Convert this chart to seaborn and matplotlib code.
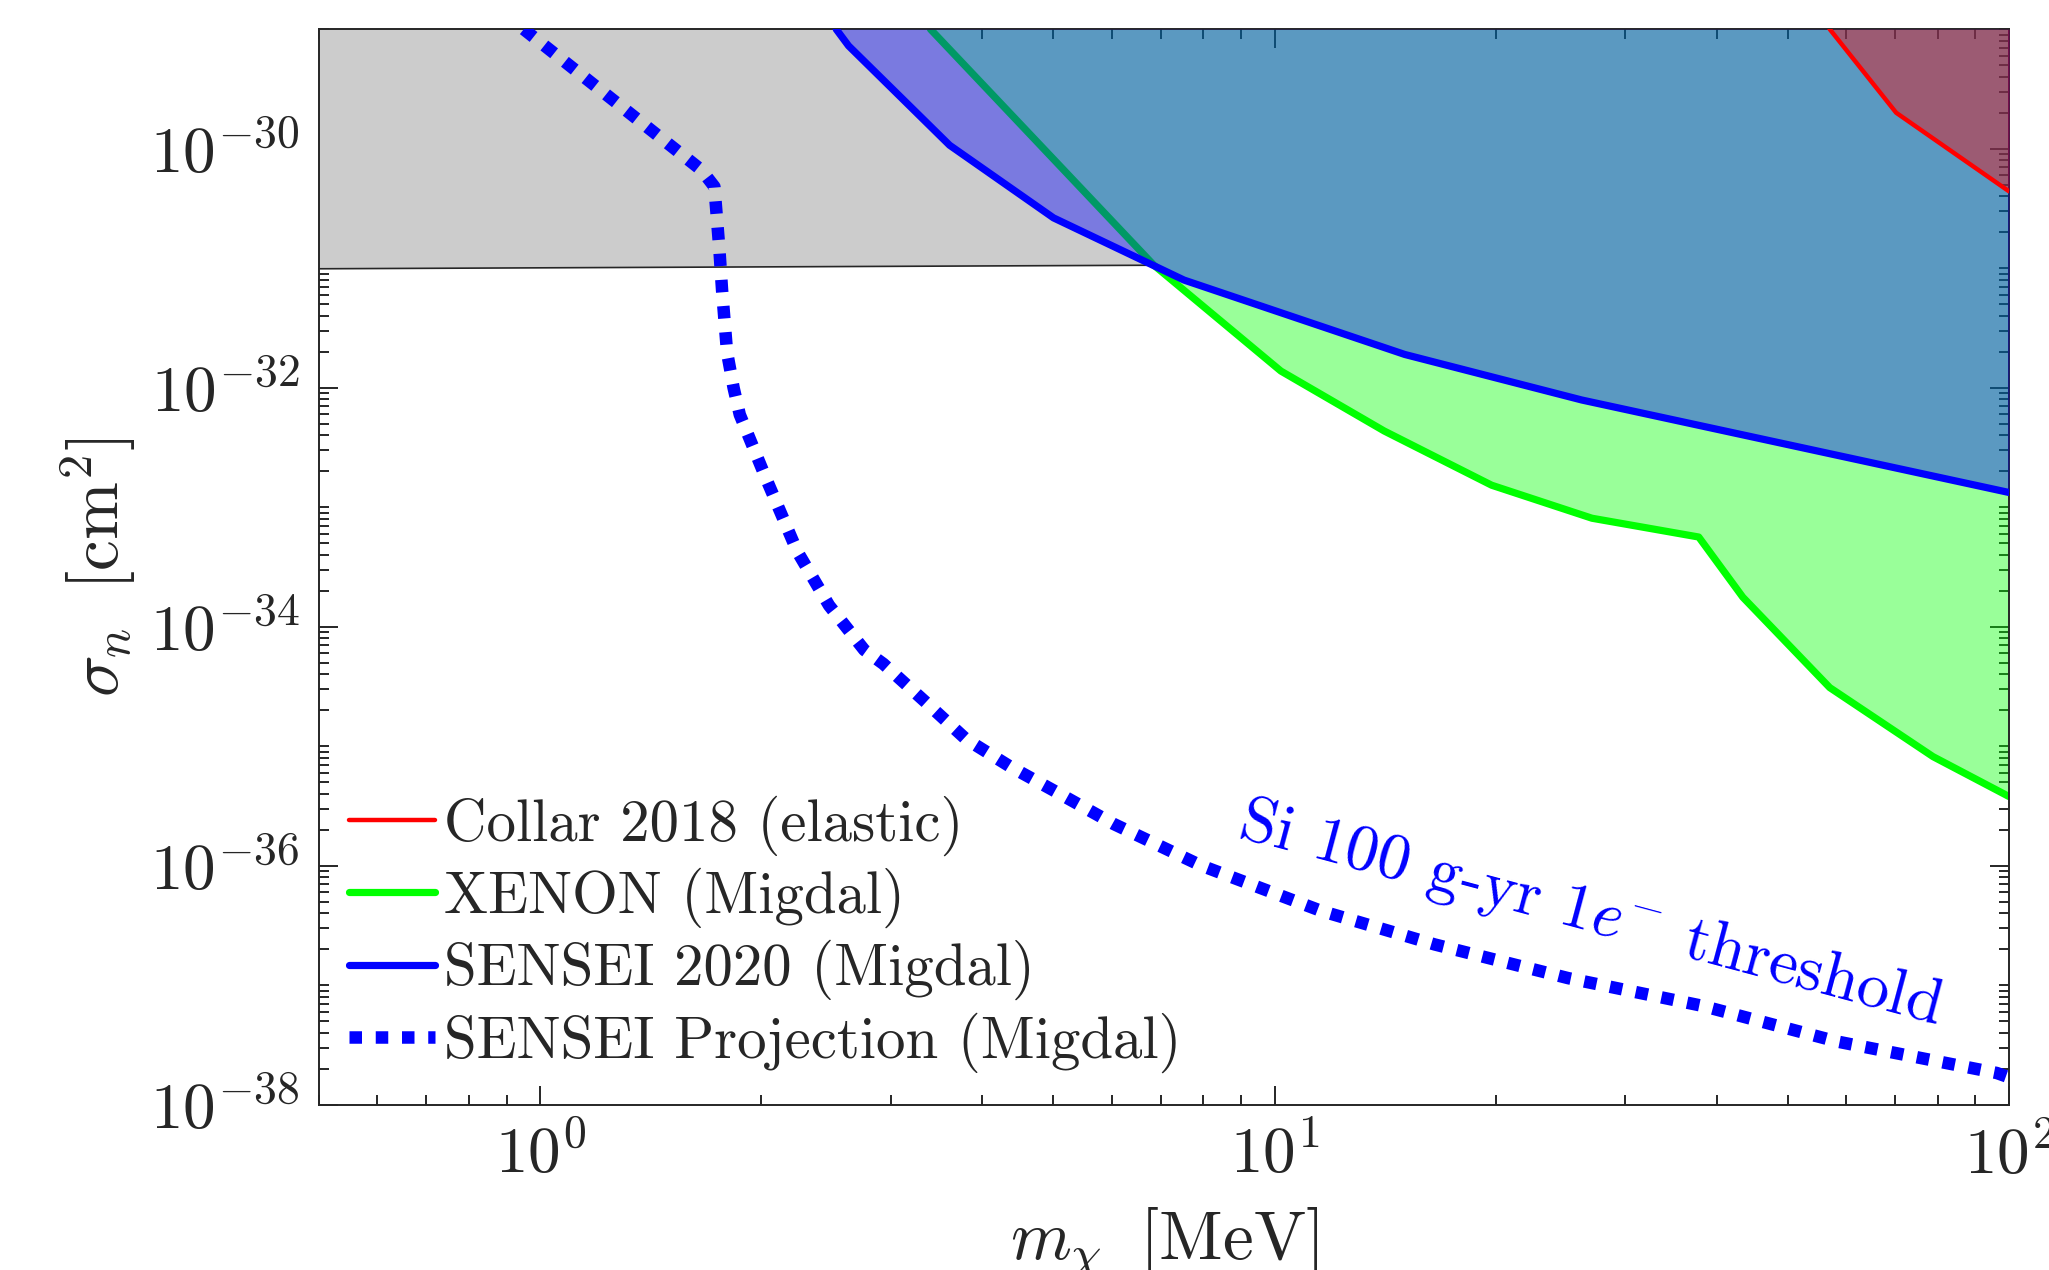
import numpy as np
import matplotlib
matplotlib.use("Agg")
import matplotlib.pyplot as plt
from matplotlib.ticker import LogLocator, FuncFormatter, NullFormatter
import seaborn as sns

# --- data (m_chi in MeV, sigma_n in cm^2) ---
collar_m = [56.5, 57.0, 70.2, 100.0]
collar_s = [1.2e-29, 1.0e-29, 2.0e-30, 4.4e-31]

xenon_m = [3.40, 6.85, 10.2, 14.1, 19.75, 27.05, 37.8, 43.4, 57.0, 78.8, 100.0]
xenon_s = [1.0e-29, 1.06e-31, 1.38e-32, 4.35e-33, 1.53e-33, 8.1e-34,
           5.64e-34, 1.77e-34, 3.1e-35, 8.2e-36, 3.8e-36]

sensei_m = [2.53, 2.63, 3.61, 5.0, 7.53, 15.04, 26.2, 100.0]
sensei_s = [1.0e-29, 7.26e-30, 1.07e-30, 2.64e-31, 7.96e-32, 1.9e-32, 7.9e-33, 1.33e-33]

proj_m = [0.95, 1.659, 1.727, 1.754, 1.769, 1.797, 1.834, 1.870, 2.026, 2.239,
          2.474, 2.763, 2.933, 3.34, 3.80, 4.36, 5.0, 6.04, 7.93, 11.57,
          16.52, 25.1, 38.2, 58.2, 96.2, 100.0]
proj_s = [1.0e-29, 6.62e-31, 4.81e-31, 1.45e-31, 6.56e-32, 1.97e-32, 1.0e-32,
          5.96e-33, 1.8e-33, 4.28e-34, 1.51e-34, 6.4e-35, 4.9e-35, 2.38e-35,
          1.15e-35, 6.8e-36, 4.28e-36, 2.24e-36, 1.01e-36, 4.2e-37, 2.2e-37,
          1.15e-37, 6.75e-38, 3.4e-38, 1.85e-38, 1.7e-38]

# grey excluded band (lower edge), closed on the right by the XENON curve
grey_m = [0.5, 6.85]
grey_s = [9.9e-32, 1.06e-31]

labels = ["Collar 2018 (elastic)", "XENON (Migdal)",
          "SENSEI 2020 (Migdal)", "SENSEI Projection (Migdal)"]
xlim = (0.5, 100)
ylim = (1e-38, 1e-29)

sns.set_theme(style="ticks")
plt.rcParams['font.family'] = ['cmr10', 'DejaVu Sans']
plt.rcParams['mathtext.fontset'] = 'cm'
plt.rcParams['axes.unicode_minus'] = False
plt.rcParams['axes.formatter.use_mathtext'] = True

fig = plt.figure(figsize=(10.245, 6.35), dpi=200)
ax = fig.add_axes([0.1557, 0.130, 0.8248, 0.847])
ax.set_xscale('log')
ax.set_yscale('log')

# grey band
ax.fill(grey_m + [xenon_m[1], xenon_m[0], grey_m[0]],
        grey_s + [xenon_s[1], ylim[1], ylim[1]],
        color='0.8', lw=0, zorder=0.8)
ax.plot(grey_m, grey_s, color='0.15', lw=0.6, zorder=0.9)

# XENON region
ax.fill_between(xenon_m, xenon_s, ylim[1], color=(0, 1, 0), alpha=0.4, lw=0, zorder=1)
sns.lineplot(x=xenon_m, y=xenon_s, ax=ax, sort=False, estimator=None,
             color=(0, 1, 0), lw=2.6, label=labels[1], zorder=2)

# SENSEI 2020 region
ax.fill_between(sensei_m, sensei_s, ylim[1], color=(0, 0, 1), alpha=0.4, lw=0, zorder=3)
sns.lineplot(x=sensei_m, y=sensei_s, ax=ax, sort=False, estimator=None,
             color=(0, 0, 1), lw=2.6, label=labels[2], zorder=4)

# Collar 2018 region
ax.fill_between(collar_m, collar_s, ylim[1], color=(1, 0, 0), alpha=0.4, lw=0, zorder=5)
sns.lineplot(x=collar_m, y=collar_s, ax=ax, sort=False, estimator=None,
             color=(1, 0, 0), lw=1.6, label=labels[0], zorder=6)

# projection
sns.lineplot(x=proj_m, y=proj_s, ax=ax, sort=False, estimator=None,
             color=(0, 0, 1), lw=4.5, linestyle=(0, (1.0, 1.1)),
             dash_capstyle='butt', label=labels[3], zorder=7)

ax.text(26.9, 3.9e-37, r"Si 100 g-yr $1e^{-}$ threshold", color=(0, 0, 1),
        fontsize=23.5, rotation=-15, ha='center', va='center', zorder=8)

ax.set_xlim(*xlim)
ax.set_ylim(*ylim)

ax.set_xticks([1, 10, 100])
ax.set_yticks([1e-38, 1e-36, 1e-34, 1e-32, 1e-30])
ax.xaxis.set_minor_locator(LogLocator(base=10, subs=np.arange(2, 10), numticks=50))
ax.yaxis.set_minor_locator(LogLocator(base=10, subs=np.arange(1, 10), numticks=50))
fmt = FuncFormatter(lambda v, p: r"$10^{%d}$" % int(round(np.log10(v))))
ax.xaxis.set_major_formatter(fmt)
ax.yaxis.set_major_formatter(fmt)
ax.xaxis.set_minor_formatter(NullFormatter())
ax.yaxis.set_minor_formatter(NullFormatter())

ink = '#262626'
ax.tick_params(which='both', direction='in', top=True, right=True,
               color=ink, labelcolor=ink, width=0.7)
ax.tick_params(which='major', length=7, labelsize=23.5, pad=7)
ax.tick_params(which='minor', length=3.6)
for s in ax.spines.values():
    s.set_color(ink)
    s.set_linewidth(0.7)

ax.set_xlabel(r"$m_\chi\;\;[\mathrm{MeV}]$", fontsize=25, color=ink, labelpad=7)
ax.set_ylabel(r"$\sigma_n\;\;[\mathrm{cm}^2]$", fontsize=25, color=ink, labelpad=4)

h, l = ax.get_legend_handles_labels()
order = [l.index(t) for t in labels]
ax.legend([h[i] for i in order], [l[i] for i in order], loc='lower left',
          bbox_to_anchor=(0.018, 0.030), frameon=False, fontsize=21.2,
          handlelength=1.45, handletextpad=0.16, labelspacing=0.2,
          borderpad=0, borderaxespad=0)

fig.savefig('out.png', dpi=200)
